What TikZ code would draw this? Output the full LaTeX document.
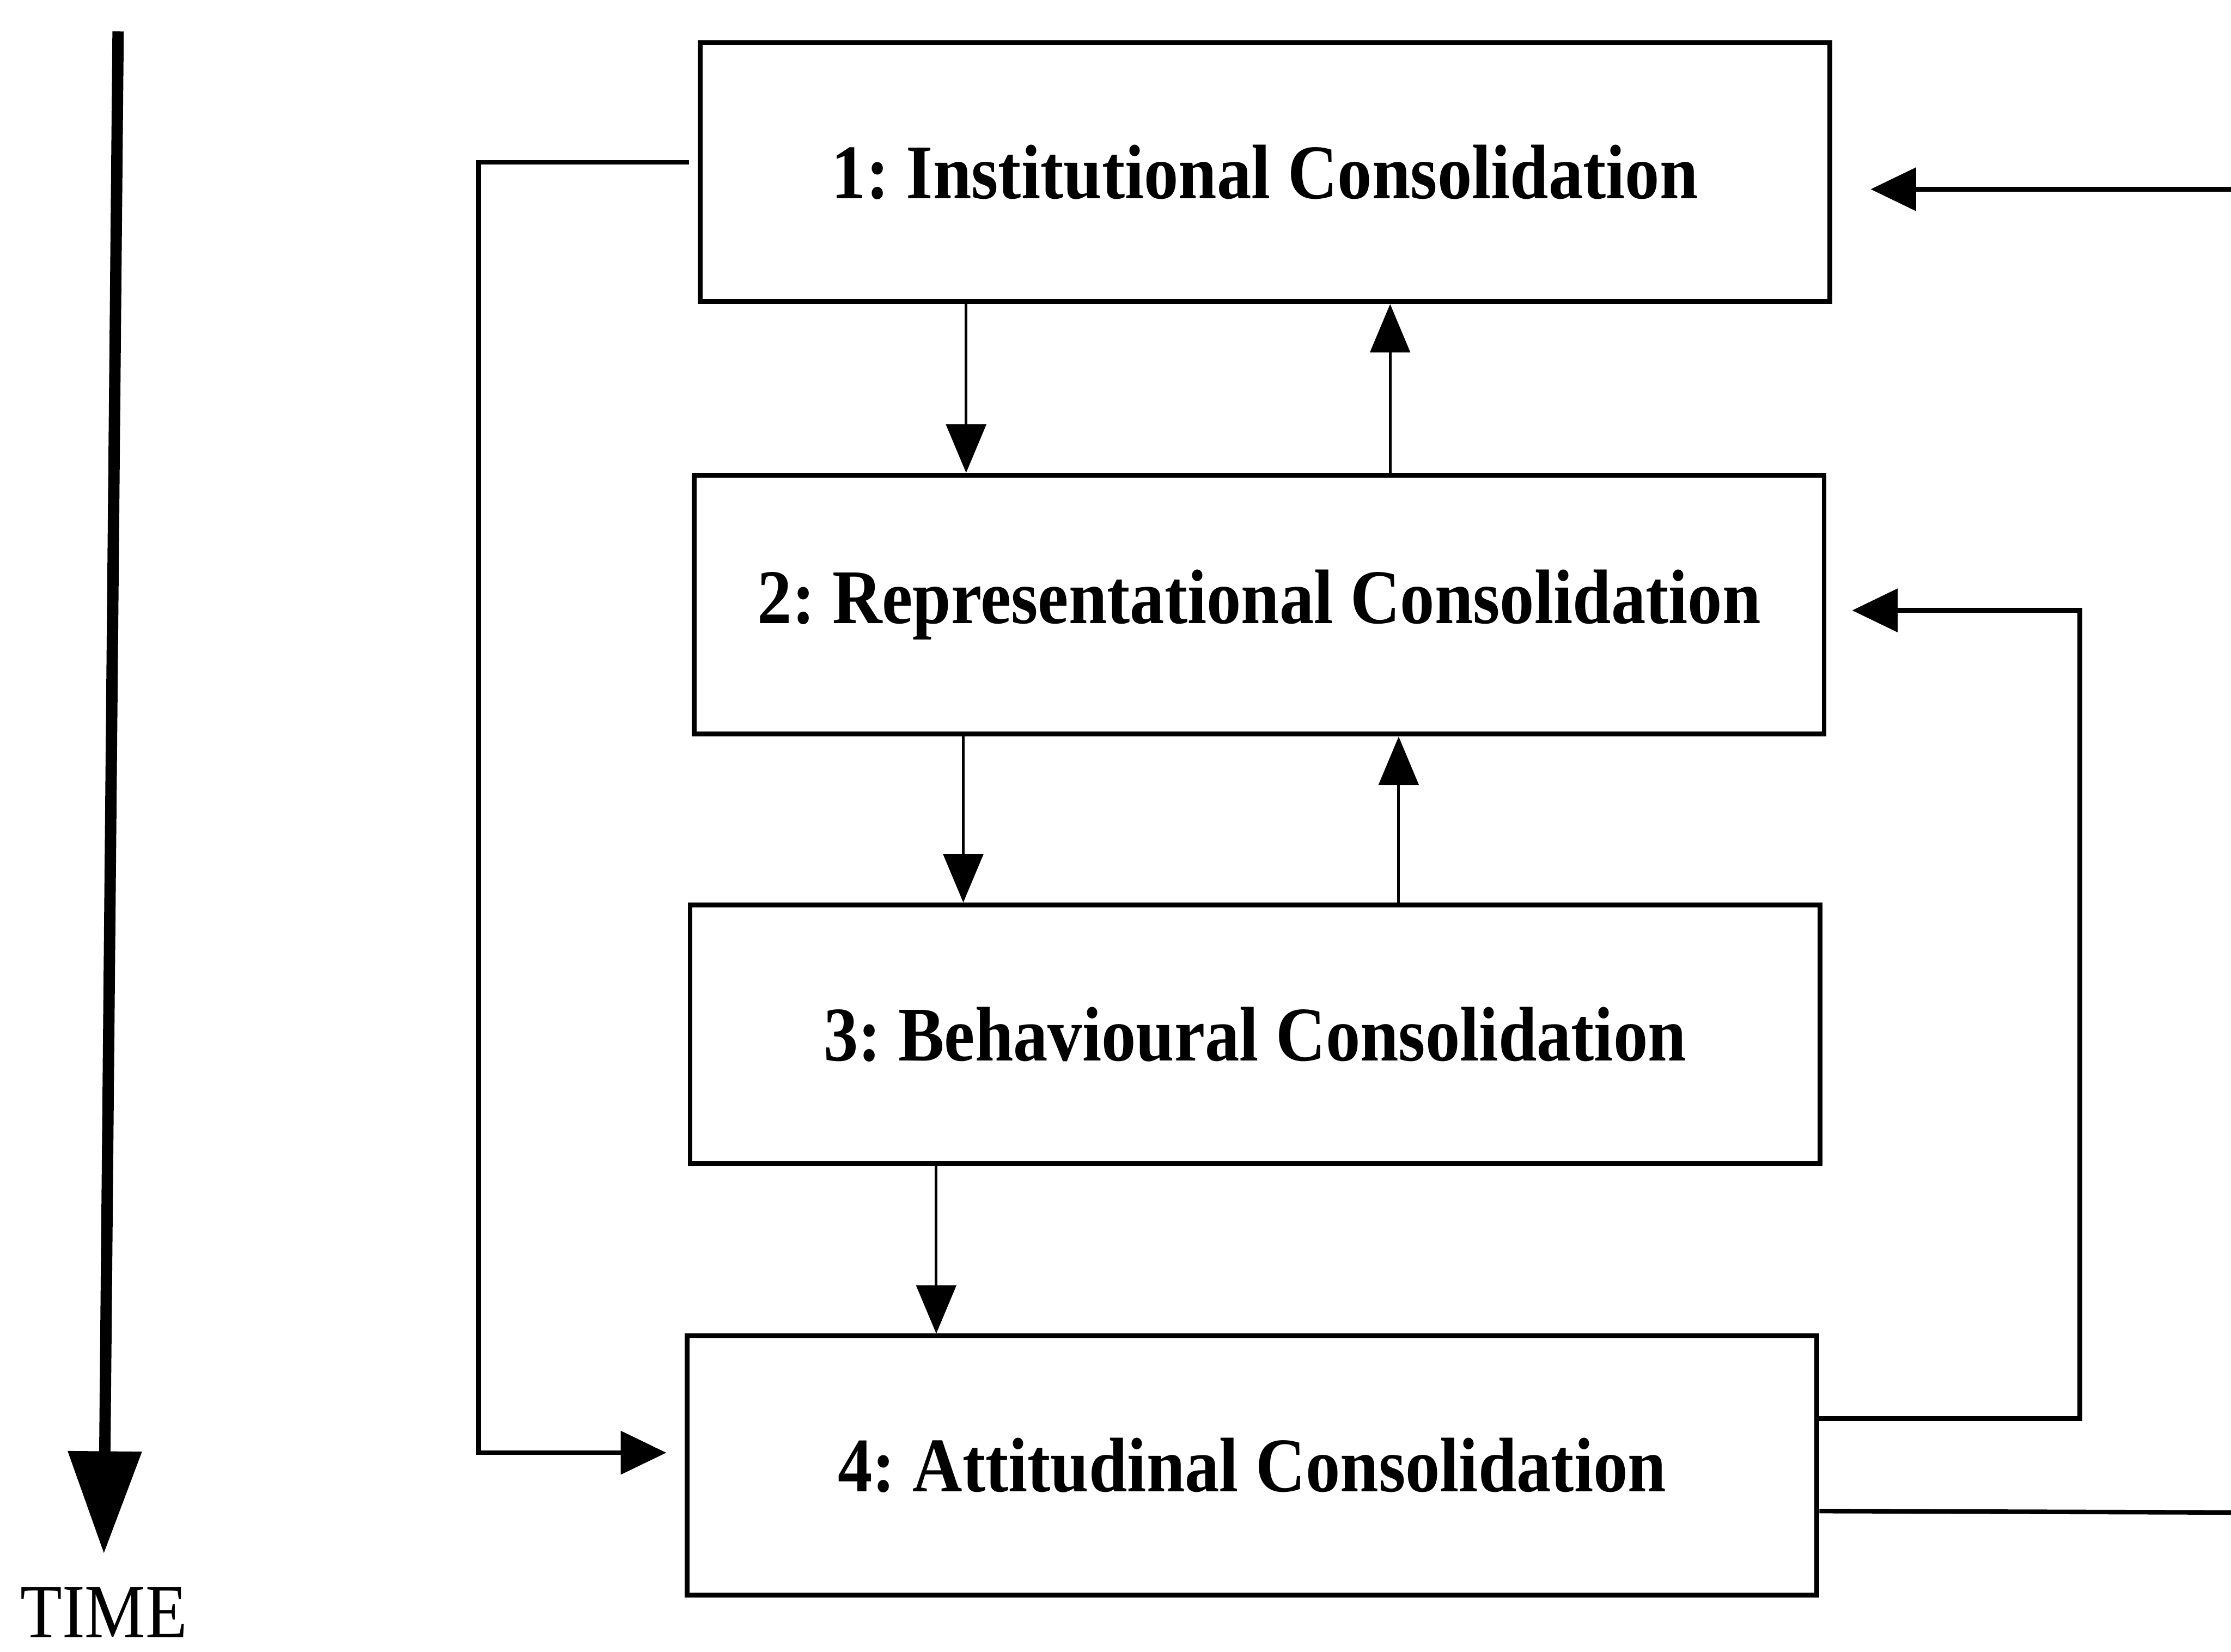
\documentclass[tikz,border=0pt]{standalone}
\usepackage{fontspec}
\setmainfont{Liberation Serif}
\usetikzlibrary{arrows.meta}
\newcommand\vstretch[1]{\scalebox{1}[1.12]{#1}}
\frenchspacing
\begin{document}
\begin{tikzpicture}[x=1pt,y=-1pt,
  stage/.style={draw, line width=3.4pt, minimum width=794pt, minimum height=182pt,
    inner sep=0pt, font=\fontsize{48.5}{56}\selectfont\bfseries},
  link/.style={line width=1.9pt, -{Triangle[length=34pt,width=28pt]}},
  loopline/.style={line width=3.2pt, -{Triangle[length=32pt,width=30pt]}},
  plainline/.style={line width=3.2pt},
  timearrow/.style={line width=8pt, -{Triangle[length=72pt,width=50pt]}},
]
\useasboundingbox (0,0) rectangle (1568,1161);

% the four stages
\node[stage] (s1) at (889,121)  {\vstretch{1: Institutional Consolidation}};
\node[stage] (s2) at (885,425)  {\vstretch{2: Representational Consolidation}};
\node[stage] (s3) at (882,727)  {\vstretch{3: Behavioural Consolidation}};
\node[stage] (s4) at (880,1030) {\vstretch{4: Attitudinal Consolidation}};

% columns of the links between neighbouring stages
\coordinate (d1) at (679,0);
\coordinate (u1) at (977,0);
\coordinate (d2) at (677,0);
\coordinate (u2) at (983,0);
\coordinate (d3) at (658,0);

\draw[link] (s1.south -| d1) -- (s2.north -| d1);
\draw[link] (s2.north -| u1) -- (s1.south -| u1);
\draw[link] (s2.south -| d2) -- (s3.north -| d2);
\draw[link] (s3.north -| u2) -- (s2.south -| u2);
\draw[link] (s3.south -| d3) -- (s4.north -| d3);

% feedback loops
\draw[loopline] ([xshift=-6pt,yshift=7pt]s1.west) -- ++(-148,0)
  |- ([xshift=-13pt,yshift=9pt]s4.west);
\draw[loopline] ([yshift=33pt]s4.east) -- ++(183,0)
  |- ([xshift=18pt,yshift=-4pt]s2.east);

% lines leaving and entering at the right edge
\coordinate (outR) at (1568,1063);
\coordinate (inR) at (1568,133);
\draw[plainline] ([yshift=-32pt]s4.east) -- (outR);
\draw[loopline] (inR) -- ([xshift=27pt,yshift=-12pt]s1.east);

% time axis
\coordinate (t0) at (83,22);
\coordinate (t1) at (73,1092);
\draw[timearrow] (t0) -- (t1);
\node[anchor=base, inner sep=0pt, font=\fontsize{48}{48}\selectfont] (time) at (73,1151) {\vstretch{TIME}};
\end{tikzpicture}
\end{document}
